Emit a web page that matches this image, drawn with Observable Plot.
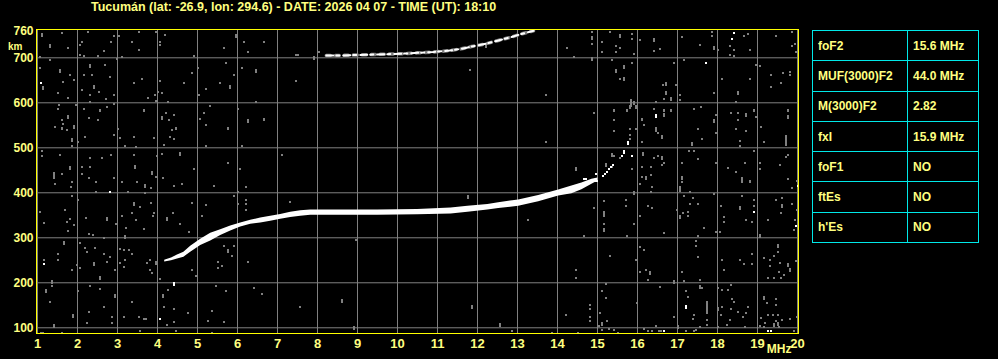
<!DOCTYPE html>
<html><head><meta charset="utf-8">
<script src="https://cdn.jsdelivr.net/npm/d3@7"></script>
<script src="https://cdn.jsdelivr.net/npm/@observablehq/plot@0.6"></script>
<style>
html,body{margin:0;padding:0;background:#000;}
#wrap{position:relative;width:998px;height:359px;background:#000;overflow:hidden;font-family:"Liberation Sans",Arial,sans-serif;font-weight:bold;}
#chart{position:absolute;left:0;top:0;}
#title{position:absolute;left:91px;top:0px;color:#ffff80;font-size:12.5px;line-height:14px;white-space:nowrap;}
#tbl{position:absolute;left:812px;top:30px;border-collapse:collapse;}
#tbl td{border:1px solid #00e8e8;color:#ffff80;font-size:12px;height:30.3px;padding:0 0 0 5px;box-sizing:border-box;}
#tbl td.k{width:95px;}
#tbl td.v{width:71px;}
</style></head>
<body>
<div id="wrap">
  <div id="chart"></div>
  <div id="title"></div>
  <table id="tbl"></table>
</div>
<script>
const titleText = "Tucumán (lat: -26.9, lon: 294.6) - DATE: 2026 04 07 - TIME (UT): 18:10";
const paramNames = ["foF2", "MUF(3000)F2", "M(3000)F2", "fxI", "foF1", "ftEs", "h'Es"];
const paramValues = ["15.6 MHz", "44.0 MHz", "2.82", "15.9 MHz", "NO", "NO", "NO"];

const xTicks = [1,2,3,4,5,6,7,8,9,10,11,12,13,14,15,16,17,18,19,20];
const yTicks = [100,200,300,400,500,600,700,760];
const gridKm = [100,200,300,400,500,600,700];

// main F2 trace (frequency MHz, lower and upper virtual height km)
const traceF  = [4.18,4.35,4.5,4.66,4.83,5.08,5.33,5.58,5.83,6.08,6.33,6.58,6.83,7.08,7.33,7.58,7.83,8.66,9.5,10.5,11.34,11.76,12.26,12.53,13.03,13.53,14.03,14.36,14.61,14.86,15.01];
const traceLo = [246,249,253,257,268,283,293,305,315,324,330,333,337,341,345,348,350,350,350,351,353,357,362,365,370,380,393,398,407,419,426];
const traceHi = [250,255,262,268,281,297,310,318,326,333,339,344,348,352,357,360,362,362,362,363,366,370,374,378,384,394,406,415,422,430,433];

// second-hop trace
const hop2F  = [8.22,8.5,8.9,9.3,9.7,10.1,10.5,10.9,11.3,11.6,11.85,12.2,12.5,12.8,13.1,13.4];
const hop2Km = [705,705,706,707,708,709,711,713,716,720,725,731,738,745,753,760];

// bright echoes [MHz, km]
const whiteEchoes = [[1.08,646],[2.79,402],[4.04,120],[1.14,243],[17.69,690],[18.39,756],[18.36,742],[16.64,93],[19.25,94],[19.33,94],[18.89,359],[19.94,327],[19.99,416],[15.84,482],[15.59,483],
  [15.13,438],[15.18,443],[15.23,448],[15.28,453],[15.33,458],[15.38,463],[14.65,431],[14.70,431],[14.88,428],[14.93,428],[14.98,428],[14.94,442]];
const whiteTall = [[4.39,201],[16.46,574],[17.19,150],[15.76,515],[15.65,493]];

// gray noise echoes [MHz, km]
const noiseDots = [
[1.60,757],[2.24,759],[2.91,750],[3.02,750],[3.52,759],[3.95,759],[4.18,752],[2.04,730],[1.75,724],[2.10,737],[2.82,737],[3.35,737],[4.06,737],[4.04,730],[2.50,706],[2.64,717],[3.10,702],[3.52,719],[1.04,702],[1.31,696],[2.04,707],[2.14,705],[1.04,678],[2.68,685],[2.98,699],[1.63,648],[1.81,663],[1.89,652],[2.14,663],[2.35,663],[2.79,659],[3.39,646],[3.60,653],[4.06,650],[4.64,646],[1.49,624],[1.74,611],[2.10,630],[2.29,619],[2.52,626],[2.89,619],[2.71,609],[3.99,626],[3.93,619],[4.10,624],[3.74,611],[3.95,606],[4.24,602],[1.52,596],[1.96,596],[2.31,602],[2.89,599],[1.49,587],[1.60,563],[1.63,554],[1.43,548],[1.60,544],[1.73,541],[2.14,587],[2.27,567],[2.54,584],[2.49,563],[2.73,591],[2.99,542],[2.91,530],[3.06,522],[3.18,504],[3.46,502],[3.64,584],[3.89,522],[3.39,526],[4.21,579],[4.39,574],[4.27,562],[4.35,541],[4.46,544],[4.29,526],[4.39,520],[4.14,507],[2.18,526],[2.00,513],[1.85,504],[1.10,493],[1.10,482],[1.54,485],[1.43,421],[1.60,443],[1.85,426],[1.83,413],[2.10,459],[2.29,459],[2.29,478],[2.60,478],[2.82,485],[2.10,443],[2.27,433],[2.46,426],[2.89,433],[3.10,426],[3.39,485],[3.48,426],[3.83,411],[3.96,437],[3.98,482],[4.10,487],[4.13,433],[4.39,416],[4.60,421],[3.67,400],[3.24,402],[2.46,402],[1.04,359],[1.14,333],[1.73,337],[1.79,342],[1.74,317],[1.89,330],[1.68,363],[1.85,394],[1.99,385],[2.21,345],[2.27,310],[2.38,307],[2.64,300],[2.96,332],[3.10,350],[3.21,322],[3.35,356],[3.56,369],[3.46,341],[3.88,350],[3.64,320],[3.89,357],[4.38,356],[4.56,332],[4.77,315],[3.83,378],[1.49,265],[1.49,252],[1.14,252],[1.85,230],[2.04,289],[2.18,278],[2.23,270],[2.43,278],[2.06,233],[1.98,241],[2.64,265],[2.79,259],[2.73,248],[2.93,230],[3.06,276],[3.16,274],[3.27,274],[3.18,252],[3.06,244],[3.16,237],[3.35,265],[3.73,244],[3.81,252],[3.81,230],[3.85,222],[4.06,209],[1.35,194],[1.31,159],[2.31,193],[2.54,187],[1.99,182],[2.64,148],[2.27,137],[3.35,159],[3.16,126],[3.52,124],[4.23,107],[4.39,113],[4.14,148],[4.24,184],[4.41,142],[4.74,135],[2.85,124],[2.85,111],[2.23,111],[1.60,90],[3.56,93],[4.46,93],[1.08,90],[1.12,90],[3.64,120],[3.69,120],
[6.14,737],[6.64,737],[5.64,724],[6.24,715],[4.89,705],[8.03,715],[7.46,707],[7.51,707],[5.70,690],[6.09,678],[5.89,663],[4.84,668],[4.99,678],[5.56,646],[5.20,631],[7.45,650],[5.03,619],[6.45,602],[5.30,593],[5.99,587],[5.14,579],[5.04,566],[6.64,564],[5.20,552],[5.74,544],[5.20,504],[6.09,504],[7.09,485],[4.89,455],[5.74,468],[6.05,455],[5.39,416],[6.20,413],[5.89,395],[5.99,402],[4.84,378],[5.20,373],[6.20,385],[6.20,376],[5.99,376],[6.20,363],[7.29,381],[5.09,350],[5.64,283],[5.89,283],[5.84,261],[5.49,248],[5.49,235],[5.59,239],[6.24,248],[4.84,230],[4.95,216],[5.45,194],[5.70,182],[6.39,190],[6.59,176],[7.56,148],[8.60,163],[8.60,158],[5.34,139],[5.24,116],[5.64,113],[5.34,90],
[11.80,673],[8.95,296],
[14.84,759],[14.84,732],[15.29,759],[15.84,754],[15.84,744],[16.04,741],[15.09,737],[15.44,727],[15.54,722],[15.44,715],[15.09,715],[15.90,710],[14.23,724],[14.40,702],[15.34,696],[15.84,690],[15.54,653],[13.69,619],[15.40,584],[15.73,584],[14.90,579],[16.09,564],[15.40,562],[16.15,552],[15.79,542],[15.94,542],[15.40,539],[15.79,530],[16.09,513],[13.69,513],[15.79,520],[15.40,482],[15.54,478],[15.34,458],[16.11,459],[16.32,459],[15.86,453],[16.09,437],[16.32,441],[16.04,421],[16.34,415],[16.32,402],[15.15,382],[15.69,384],[15.69,372],[15.15,350],[14.90,368],[16.26,372],[16.34,367],[16.04,350],[15.15,332],[15.90,332],[15.73,305],[14.65,305],[13.26,341],[16.04,280],[16.15,274],[15.29,261],[15.94,252],[14.44,230],[14.44,211],[16.19,230],[16.04,226],[16.26,207],[15.19,199],[15.09,182],[15.19,168],[15.98,157],[14.79,152],[14.79,142],[14.79,126],[14.79,116],[14.19,130],[15.04,135],[15.03,105],[15.23,116],[15.09,96],[15.28,98],[15.40,96],[15.51,90],[13.84,90],[14.51,90],[12.84,94],[16.15,98],[16.26,93],[16.34,93],
[16.39,717],[16.54,720],[17.11,747],[17.54,730],[17.86,759],[17.86,750],[18.00,719],[18.31,727],[18.39,719],[18.31,707],[18.39,705],[18.64,750],[18.75,754],[18.79,719],[19.44,750],[19.86,759],[19.86,727],[19.92,732],[19.94,715],[16.89,690],[17.14,696],[18.11,653],[18.79,653],[18.94,685],[19.04,682],[19.33,663],[19.63,668],[19.79,670],[19.79,663],[19.58,646],[19.33,637],[16.63,641],[16.94,641],[16.64,609],[17.04,619],[17.04,607],[17.89,624],[18.44,602],[16.44,602],[16.39,587],[16.64,584],[16.83,584],[17.39,587],[17.58,591],[17.94,574],[16.50,533],[17.50,542],[17.61,520],[17.94,533],[18.33,579],[18.50,579],[18.89,584],[18.50,562],[18.44,542],[18.69,539],[18.56,517],[18.56,504],[18.94,569],[19.08,547],[19.14,513],[19.75,584],[16.39,478],[16.50,482],[16.64,468],[16.61,463],[17.11,468],[17.28,493],[17.50,476],[17.39,493],[17.94,468],[18.25,456],[18.44,448],[18.67,467],[18.61,426],[18.79,428],[18.79,424],[18.89,495],[19.04,468],[19.06,453],[19.56,463],[19.69,481],[19.75,485],[19.75,431],[19.86,411],[19.98,428],[17.11,426],[17.04,404],[17.29,402],[17.89,399],[17.14,394],[17.31,376],[17.50,376],[17.38,389],[16.98,363],[17.13,357],[17.25,359],[17.25,350],[18.08,372],[18.14,348],[18.14,337],[18.59,394],[18.89,385],[18.89,372],[18.71,341],[18.86,337],[19.25,341],[19.44,385],[19.61,389],[19.58,356],[19.86,376],[19.92,341],[19.89,319],[19.98,363],[16.64,311],[17.50,305],[17.64,322],[17.94,315],[18.04,315],[17.44,295],[17.44,283],[17.50,259],[18.11,252],[18.14,230],[18.56,252],[18.64,243],[18.86,265],[18.86,243],[19.50,270],[19.39,261],[19.14,256],[19.29,252],[19.29,239],[19.56,244],[19.53,226],[19.64,219],[19.58,211],[19.39,211],[19.25,211],[19.94,250],[17.11,226],[17.14,204],[17.54,207],[16.54,191],[17.61,189],[17.19,182],[17.25,169],[17.39,130],[16.89,126],[18.00,189],[18.11,185],[18.25,185],[18.33,196],[18.08,130],[18.11,148],[18.36,164],[18.39,159],[18.33,142],[18.50,137],[18.75,148],[18.69,133],[18.63,124],[18.29,119],[18.23,107],[18.00,102],[19.23,156],[19.44,164],[19.46,152],[19.25,130],[19.38,130],[19.50,130],[19.46,117],[19.08,122],[19.17,111],[19.61,119],[19.81,120],[19.98,126],[17.73,119],[17.73,107],[17.38,120],[17.56,102],[17.46,96],[17.39,93],[17.21,93],[16.46,104],[16.53,93],[16.58,93],[18.67,102],[19.04,104],[19.14,102],[19.53,102],[19.89,93],[19.99,111]
];
const noiseTall = [
[1.09,754],[1.31,730],[1.54,674],[2.29,685],[1.13,637],[2.39,639],[1.75,572],[1.89,550],[4.10,569],[1.85,520],[1.79,458],[3.43,461],[3.68,419],[3.85,448],[4.56,489],[2.73,345],[3.18,304],[3.39,379],[4.23,345],[1.64,291],[2.39,246],[2.54,213],[3.95,247],[1.35,204],[1.21,185],[1.88,130],[2.93,174],[4.13,174],[1.39,107],
[5.95,752],[7.91,704],[6.45,674],[5.81,639],[6.24,563],[5.74,274],
[11.74,393],[11.84,150],[8.90,102],[12.20,730],
[14.84,748],[15.54,752],[14.84,700],[15.65,683],[15.44,674],[15.65,656],[15.90,604],[15.79,594],[15.94,594],[16.13,490],[15.34,487],[15.19,465],[14.44,457],[16.21,436],[15.90,402],[15.15,359],[15.15,321],[16.29,224],[15.09,111],[12.54,110],
[16.39,744],[17.89,726],[16.69,646],[16.69,626],[16.83,611],[18.50,626],[16.64,576],[17.89,563],[16.46,544],[16.61,527],[17.36,511],[18.69,576],[19.75,572],[16.61,480],[18.61,433],[17.11,437],[17.04,415],[17.04,350],[18.56,370],[19.61,374],[19.04,307],[19.50,285],[19.75,243],[19.79,231],[16.89,206],[17.54,193],[18.00,144],[19.14,170],[19.39,110],[19.50,111],[17.00,105]
];
// long gray streaks [MHz, top km, bottom km]
const noiseStreaks = [[1.39,445,430],[19.69,527,502],[17.73,159,130],[15.83,608,590]];

const GRAY = "#808080";
const DOT_F = 0.05, DOT_KM = 4.45;

const traceRows = traceF.map((f, i) => ({f, lo: traceLo[i], hi: traceHi[i]}));
const hop2Rows = hop2F.map((f, i) => ({f, km: hop2Km[i]}));

const chart = Plot.plot({
  width: 998,
  height: 359,
  marginLeft: 36,
  marginRight: 200,
  marginTop: 29,
  marginBottom: 26,
  style: {background: "#000", color: "#ffff80", fontFamily: "'Liberation Sans', Arial, sans-serif", fontWeight: "bold", fontSize: "12px", overflow: "visible"},
  x: {domain: [0.975, 20.025]},
  y: {domain: [87.3, 762.9]},
  marks: [
    Plot.ruleX(xTicks, {stroke: GRAY, strokeWidth: 1}),
    Plot.ruleY(gridKm, {stroke: GRAY, strokeWidth: 1}),
    Plot.rect(noiseDots, {x1: d => d[0], x2: d => d[0] + DOT_F, y1: d => d[1] - DOT_KM, y2: d => d[1], fill: GRAY, clip: true, shapeRendering: "crispEdges"}),
    Plot.rect(noiseTall, {x1: d => d[0], x2: d => d[0] + DOT_F, y1: d => d[1] - 2 * DOT_KM, y2: d => d[1], fill: GRAY, clip: true, shapeRendering: "crispEdges"}),
    Plot.rect(noiseStreaks, {x1: d => d[0], x2: d => d[0] + DOT_F, y1: d => d[2], y2: d => d[1], fill: GRAY, clip: true, shapeRendering: "crispEdges"}),
    Plot.areaY(traceRows, {x: "f", y1: "lo", y2: "hi", fill: "#fff"}),
    Plot.line(hop2Rows, {x: "f", y: "km", stroke: GRAY, strokeWidth: 3.5, strokeDasharray: "4,5"}),
    Plot.line(hop2Rows, {x: "f", y: "km", stroke: "#fff", strokeWidth: 2, strokeDasharray: "7,3,3,4"}),
    Plot.rect(whiteEchoes, {x1: d => d[0], x2: d => d[0] + DOT_F, y1: d => d[1] - DOT_KM, y2: d => d[1], fill: "#fff", clip: true, shapeRendering: "crispEdges"}),
    Plot.rect(whiteTall, {x1: d => d[0], x2: d => d[0] + DOT_F, y1: d => d[1] - 2 * DOT_KM, y2: d => d[1], fill: "#fff", clip: true, shapeRendering: "crispEdges"}),
    Plot.frame({stroke: "#ffff00", strokeWidth: 1}),
    Plot.axisX(xTicks, {tickSize: 0, tickPadding: 5, tickFormat: d => String(d), fill: "#ffff80", fontSize: 13, label: null}),
    Plot.axisY(yTicks, {tickSize: 0, tickPadding: 3, tickFormat: d => String(d), fill: "#ffff80", fontSize: 12, label: null}),
    Plot.text(["km"], {frameAnchor: "top-left", dx: -14, dy: 13, textAnchor: "end", fill: "#ffff80", fontSize: 10}),
    Plot.text(["MHz"], {frameAnchor: "bottom-right", dx: -7, dy: 19, textAnchor: "end", fill: "#ffff80", fontSize: 12})
  ]
});
document.getElementById("chart").appendChild(chart);

document.getElementById("title").textContent = titleText;
const tbl = document.getElementById("tbl");
paramNames.forEach((n, i) => {
  const tr = document.createElement("tr");
  const a = document.createElement("td"); a.className = "k"; a.textContent = n;
  const b = document.createElement("td"); b.className = "v"; b.textContent = paramValues[i];
  tr.appendChild(a); tr.appendChild(b); tbl.appendChild(tr);
});
</script>
</body></html>
